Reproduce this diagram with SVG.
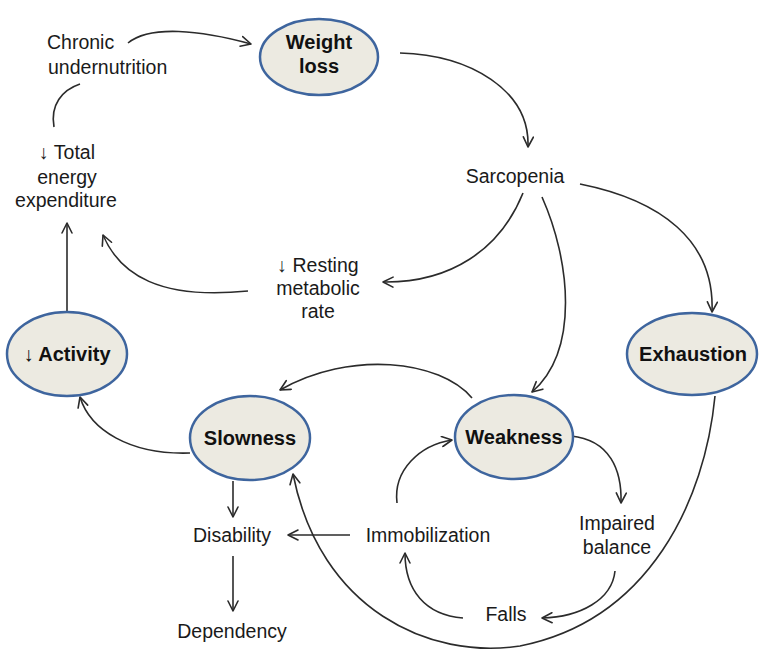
<svg xmlns="http://www.w3.org/2000/svg" width="760" height="650" viewBox="0 0 760 650">
<defs>
<marker id="ah" viewBox="0 0 12 12" refX="11" refY="6" markerWidth="12" markerHeight="12" markerUnits="userSpaceOnUse" orient="auto">
<path d="M1,1 L11,6 L1,11" fill="none" stroke="#2b2b2b" stroke-width="1.6" stroke-linecap="round" stroke-linejoin="round"/>
</marker>
<style>
.n ellipse{fill:#ECEAE1;stroke:#3E659E;stroke-width:2.5}
.b{font-family:"Liberation Sans",Arial,sans-serif;font-weight:bold;font-size:20px;fill:#111;text-anchor:middle}
.t{font-family:"Liberation Sans",Arial,sans-serif;font-size:19.5px;fill:#1a1a1a;text-anchor:middle}
.c path{fill:none;stroke:#2b2b2b;stroke-width:1.6}
.a{marker-end:url(#ah)}
</style>
</defs>
<rect width="760" height="650" fill="#fff"/>
<g class="c" id="connectors">
<path class="a" d="M128,43 C150,25 200,30 251,44"/>
<path d="M54,127 C50,105 62,90 80,84"/>
<path class="a" d="M400,53 C470,55 530,90 528,147"/>
<path class="a" d="M523,193 C500,250 450,283 383,282"/>
<path class="a" d="M542,197 C570,260 580,350 532,392"/>
<path class="a" d="M580,184 C660,200 715,240 712,312"/>
<path class="a" d="M248,291 C160,300 120,275 103,235"/>
<path class="a" d="M67,311 L67,223"/>
<path class="a" d="M190,453 C130,455 90,430 80,397"/>
<path class="a" d="M472,398 C440,360 350,350 280,390"/>
<path class="a" d="M233,481 L233,517"/>
<path class="a" d="M233,556 L233,611"/>
<path class="a" d="M350,535 L288,535"/>
<path class="a" d="M397,503 C393,470 420,445 452,440"/>
<path class="a" d="M571,436 C610,440 622,470 621,503"/>
<path class="a" d="M615,571 C612,600 580,617 542,618"/>
<path class="a" d="M463,618 C425,615 405,590 405,553"/>
<path class="a" d="M715,396 C705,500 650,620 520,646 C430,660 320,610 293,474"/>
</g>
<g id="chronic"><text class="t" x="47" y="49" text-anchor="start" style="text-anchor:start">Chronic</text><text class="t" x="48" y="74" style="text-anchor:start">undernutrition</text></g>
<g id="weightloss" class="n"><ellipse cx="319" cy="57" rx="59" ry="38"/><text class="b" x="319" y="49">Weight</text><text class="b" x="319" y="73">loss</text></g>
<g id="sarcopenia"><text class="t" x="515" y="183">Sarcopenia</text></g>
<g id="totalenergy"><text class="t" x="67" y="159">↓ Total</text><text class="t" x="67" y="184">energy</text><text class="t" x="66" y="207">expenditure</text></g>
<g id="resting"><text class="t" x="318" y="272">↓ Resting</text><text class="t" x="318" y="295">metabolic</text><text class="t" x="318" y="318">rate</text></g>
<g id="activity" class="n"><ellipse cx="67" cy="354" rx="60" ry="42"/><text class="b" x="67" y="361">↓ Activity</text></g>
<g id="exhaustion" class="n"><ellipse cx="692" cy="354" rx="65" ry="41"/><text class="b" x="693" y="361">Exhaustion</text></g>
<g id="slowness" class="n"><ellipse cx="250" cy="438" rx="60" ry="42"/><text class="b" x="250" y="445">Slowness</text></g>
<g id="weakness" class="n"><ellipse cx="514" cy="437" rx="59" ry="42"/><text class="b" x="514" y="444">Weakness</text></g>
<g id="disability"><text class="t" x="232" y="542">Disability</text></g>
<g id="dependency"><text class="t" x="232" y="638">Dependency</text></g>
<g id="immobilization"><text class="t" x="428" y="542">Immobilization</text></g>
<g id="impaired"><text class="t" x="617" y="530">Impaired</text><text class="t" x="617" y="554">balance</text></g>
<g id="falls"><text class="t" x="506" y="621">Falls</text></g>
</svg>
